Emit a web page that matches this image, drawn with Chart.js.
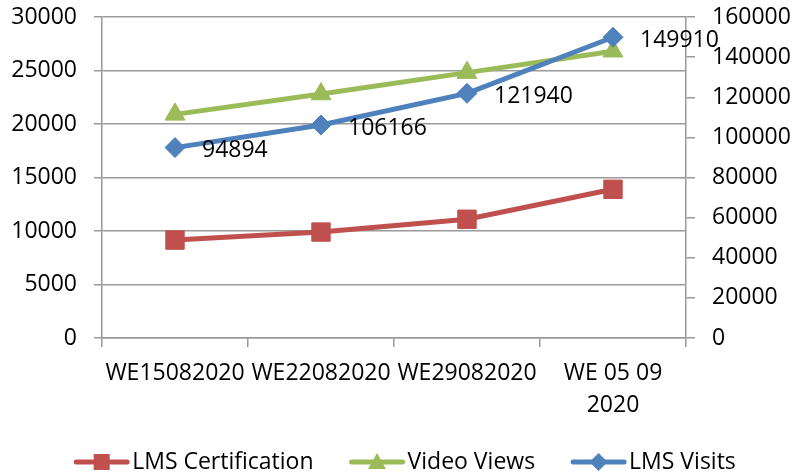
<!DOCTYPE html>
<html>
<head>
<meta charset="utf-8">
<script src="https://cdn.jsdelivr.net/npm/chart.js@4/dist/chart.umd.min.js"></script>
<style>
  body { margin: 0; background: #fff; }
  #wrap { width: 796px; height: 475px; position: relative; }
</style>
</head>
<body>
<div id="wrap"><canvas id="chart"></canvas></div>
<script>

// week labels (last one wraps onto two lines like in the original)
const weeks = ['WE15082020', 'WE22082020', 'WE29082020', ['WE 05 09', '2020']];

// left axis series
const lmsCertification = [9150, 9900, 11100, 13900];
const videoViews = [20900, 22800, 24800, 26800];

// right axis series
const lmsVisits = [94894, 106166, 121940, 149910];

const leftTicks = { min: 0, max: 30000, step: 5000 };
const rightTicks = { min: 0, max: 160000, step: 20000 };

const RED = '#C0504D';
const GREEN = '#9BBB59';
const BLUE = '#4F81BD';
const FONT = "'Open Sans', 'Liberation Sans', sans-serif";


// excel-like marker shapes, used in the legend
function drawMarker(ctx, shape, x, y){
  ctx.beginPath();
  if (shape === 'rect') {
    ctx.rect(x - 8, y - 8, 16, 16);
  } else if (shape === 'triangle') {
    ctx.moveTo(x, y - 9);
    ctx.lineTo(x + 9, y + 7);
    ctx.lineTo(x - 9, y + 7);
  } else {
    ctx.moveTo(x, y - 9);
    ctx.lineTo(x + 9, y);
    ctx.lineTo(x, y + 9);
    ctx.lineTo(x - 9, y);
  }
  ctx.closePath();
  ctx.fill();
}

// value labels next to the LMS Visits points
const valueLabels = {
  id: 'valueLabels',
  afterDatasetsDraw(chart){
    let ctx = chart.ctx;
    chart.data.datasets.forEach((ds, i) => {
      if (!ds.showValues) return;
      let meta = chart.getDatasetMeta(i);
      ctx.save();
      ctx.font = '23px ' + FONT;
      ctx.fillStyle = '#000';
      ctx.textAlign = 'left';
      ctx.textBaseline = 'middle';
      meta.data.forEach((pt, j) => {
        ctx.fillText(String(ds.data[j]), pt.x + 27, pt.y + 3);
      });
      ctx.restore();
    });
  }
};

// legend under the chart: line + marker, then the name
const lineLegend = {
  id: 'lineLegend',
  afterDraw(chart){
    let ctx = chart.ctx;
    let iconW = 55, textGap = 3, itemGap = 36;
    ctx.save();
    ctx.font = '23px ' + FONT;
    let items = chart.data.datasets.map(ds => ({
      ds: ds,
      w: iconW + textGap + ctx.measureText(ds.label).width
    }));
    let total = items.reduce((s, it) => s + it.w, 0) + itemGap * (items.length - 1);
    let x = 405 - total / 2;
    let y = 462;
    items.forEach(it => {
      ctx.strokeStyle = it.ds.borderColor;
      ctx.fillStyle = it.ds.borderColor;
      ctx.lineWidth = 5;
      ctx.lineCap = 'round';
      ctx.beginPath();
      ctx.moveTo(x + 2, y);
      ctx.lineTo(x + iconW - 2, y);
      ctx.stroke();
      drawMarker(ctx, it.ds.legendShape, x + iconW / 2, y);
      ctx.fillStyle = '#000';
      ctx.textAlign = 'left';
      ctx.textBaseline = 'middle';
      ctx.fillText(it.ds.label, x + iconW + textGap, y);
      x += it.w + itemGap;
    });
    ctx.restore();
  }
};

// y axes: fixed width and no extra room reserved for the end labels
function fixAxis(width){
  return (scale) => {
    scale.width = width;
    scale.paddingTop = 0;
    scale.paddingBottom = 0;
  };
}

let canvas = document.getElementById('chart');

new Chart(canvas, {
  type: 'line',
  data: {
    labels: weeks,
    datasets: [
      {
        label: 'LMS Certification',
        data: lmsCertification,
        yAxisID: 'y',
        borderColor: RED,
        backgroundColor: RED,
        borderWidth: 5,
        pointStyle: 'rect',
        pointRadius: 13,
        pointBorderWidth: 1,
        legendShape: 'rect',
        order: 3
      },
      {
        label: 'Video Views',
        data: videoViews,
        yAxisID: 'y',
        borderColor: GREEN,
        backgroundColor: GREEN,
        borderWidth: 5,
        pointStyle: 'triangle',
        pointRadius: 11.5,
        pointBorderWidth: 1,
        legendShape: 'triangle',
        order: 2
      },
      {
        label: 'LMS Visits',
        data: lmsVisits,
        yAxisID: 'y1',
        borderColor: BLUE,
        backgroundColor: BLUE,
        borderWidth: 5,
        pointStyle: 'rectRot',
        pointRadius: 10,
        pointBorderWidth: 1,
        legendShape: 'diamond',
        showValues: true,
        order: 1
      }
    ]
  },
  options: {
    responsive: true,
    maintainAspectRatio: false,
    animation: false,
    layout: {
      padding: { top: 17, left: 0, right: 0, bottom: 53 }
    },
    scales: {
      x: {
        offset: true,
        grid: {
          offset: true,
          drawOnChartArea: false,
          drawTicks: true,
          tickLength: 9,
          color: '#9a9a9a',
          lineWidth: 1.5
        },
        border: { display: true, color: '#9a9a9a', width: 1.5 },
        ticks: {
          autoSkip: false,
          maxRotation: 0,
          minRotation: 0,
          padding: 10,
          color: '#000',
          font: { family: FONT, size: 23, lineHeight: 1.4 }
        },
        afterFit: (scale) => { scale.height = 84; }
      },
      y: {
        position: 'left',
        min: leftTicks.min,
        max: leftTicks.max,
        ticks: {
          stepSize: leftTicks.step,
          padding: 17,
          color: '#000',
          font: { family: FONT, size: 23 },
          callback: (v) => String(v)
        },
        grid: {
          color: '#9a9a9a',
          lineWidth: 1.5,
          tickLength: 8
        },
        border: { display: true, color: '#9a9a9a', width: 1.5 },
        afterFit: fixAxis(102)
      },
      y1: {
        position: 'right',
        min: rightTicks.min,
        max: rightTicks.max,
        ticks: {
          stepSize: rightTicks.step,
          padding: 17,
          color: '#000',
          font: { family: FONT, size: 23 },
          callback: (v) => String(v)
        },
        grid: {
          drawOnChartArea: false,
          color: '#9a9a9a',
          lineWidth: 1.5,
          tickLength: 9
        },
        border: { display: true, color: '#9a9a9a', width: 1.5 },
        afterFit: fixAxis(110)
      }
    },
    elements: {
      line: { tension: 0 }
    },
    plugins: {
      legend: { display: false },
      tooltip: { enabled: false }
    }
  },
  plugins: [valueLabels, lineLegend]
});

</script>
</body>
</html>
